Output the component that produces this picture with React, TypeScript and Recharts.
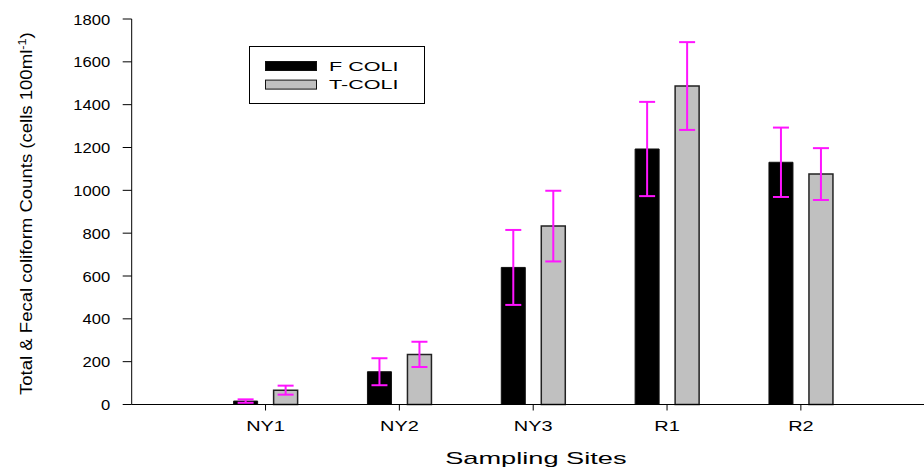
import { BarChart, Bar, XAxis, YAxis, ErrorBar, Legend } from 'recharts';

const sites = ['NY1', 'NY2', 'NY3', 'R1', 'R2'];
const sitePos = [1, 2, 3, 4, 5];
const fColi = [16, 153, 640, 1193, 1131];
const fColiErr = [8, 63, 175, 220, 162];
const tColi = [67, 234, 833, 1487, 1076];
const tColiErr = [21, 59, 165, 205, 121];
const yTicks = [0, 200, 400, 600, 800, 1000, 1200, 1400, 1600, 1800];

const FONT = '"Liberation Sans", Arial, sans-serif';

// page is exactly the chart, so drop the default body margin
if (typeof document !== 'undefined') {
  document.body.style.margin = '0';
}

const data = sites.map((site, i) => ({
  site,
  pos: sitePos[i],
  fColi: fColi[i],
  fErr: fColiErr[i],
  tColi: tColi[i],
  tErr: tColiErr[i],
}));

// the source figure is stretched sideways, so text gets a horizontal scale
function XTick({ x, y, payload }: any) {
  const idx = sitePos.indexOf(payload.value);
  return (
    <text
      transform={`translate(${x},${y + 18.5}) scale(1.33,1)`}
      textAnchor="middle"
      fontSize={15}
      fontFamily={FONT}
      fill="#000"
    >
      {sites[idx]}
    </text>
  );
}

function YTick({ x, y, payload }: any) {
  return (
    <text
      transform={`translate(${x},${y}) scale(1.07,1)`}
      textAnchor="end"
      dy="0.36em"
      fontSize={15.5}
      fontFamily={FONT}
      fill="#000"
    >
      {payload.value}
    </text>
  );
}

function XLabel({ viewBox }: any) {
  const cx = viewBox.x + viewBox.width / 2 + 8;
  return (
    <text
      transform={`translate(${cx},${viewBox.y + 59.5}) scale(1.6,1)`}
      textAnchor="middle"
      fontSize={17}
      fontFamily={FONT}
      fill="#000"
    >
      Sampling Sites
    </text>
  );
}

function YLabel() {
  return (
    <text
      transform="translate(32,395) rotate(-90) scale(1.16,1)"
      fontSize={16}
      fontFamily={FONT}
      fill="#000"
    >
      Total &amp; Fecal coliform Counts (cells 100ml
      <tspan dy={-6} fontSize={11}>-1</tspan>
      <tspan dy={6}>)</tspan>
    </text>
  );
}

function LegendBox({ payload }: any) {
  return (
    <svg width={176} height={58}>
      <rect x={0.5} y={0.5} width={175} height={57} fill="#fff" stroke="#000" />
      {(payload || []).map((p: any, i: number) => (
        <g key={p.value}>
          <rect x={16.5} y={15.5 + 18.6 * i} width={51} height={9} fill={p.color} stroke="#111" />
          <text
            transform={`translate(80,${20 + 18.6 * i}) scale(1.6,1)`}
            dy="0.36em"
            fontSize={13.5}
            fontFamily={FONT}
            fill="#000"
          >
            {p.value}
          </text>
        </g>
      ))}
    </svg>
  );
}

export default function App() {
  return (
    <div style={{ width: 924, height: 470 }}>
      <BarChart
        width={924}
        height={470}
        data={data}
        margin={{ top: 19, right: 0, bottom: 35.5, left: 51.7 }}
        barSize={24}
        barGap={16}
      >
        <XAxis
          dataKey="pos"
          type="number"
          domain={[0, 5.92]}
          ticks={sitePos}
          allowDataOverflow
          tickSize={6}
          axisLine={{ stroke: '#000' }}
          tickLine={{ stroke: '#000' }}
          tick={<XTick />}
          label={(props: any) => <XLabel {...props} />}
        />
        <YAxis
          width={80}
          domain={[0, 1800]}
          ticks={yTicks}
          tickSize={9}
          tickMargin={12.5}
          axisLine={{ stroke: '#000' }}
          tickLine={{ stroke: '#000' }}
          tick={<YTick />}
          label={() => <YLabel />}
        />
        <Legend
          layout="horizontal"
          verticalAlign="middle"
          align="center"
          content={<LegendBox />}
          wrapperStyle={{ left: 249, top: 46, width: 176, height: 58 }}
        />
        <Bar dataKey="fColi" name="F COLI" fill="#000" stroke="#111" strokeWidth={1} isAnimationActive={false}>
          <ErrorBar dataKey="fErr" width={8} strokeWidth={2} stroke="#ff14ff" direction="y" />
        </Bar>
        <Bar dataKey="tColi" name="T-COLI" fill="#c0c0c0" stroke="#222" strokeWidth={1.5} isAnimationActive={false}>
          <ErrorBar dataKey="tErr" width={8} strokeWidth={2} stroke="#ff14ff" direction="y" />
        </Bar>
      </BarChart>
    </div>
  );
}
